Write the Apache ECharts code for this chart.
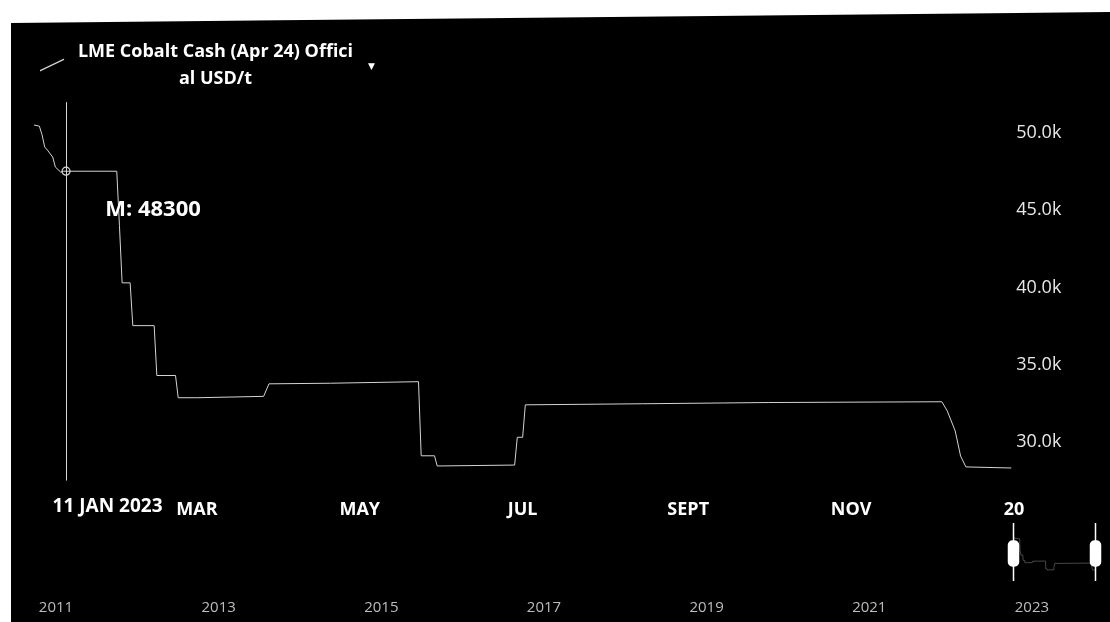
<!DOCTYPE html>
<html>
<head>
<meta charset="utf-8">
<script src="https://cdn.jsdelivr.net/npm/echarts@6/dist/echarts.min.js"></script>
<style>
  html, body { margin: 0; padding: 0; background: #ffffff; }
  #panel { position: absolute; left: 0; top: 0; width: 1110px; height: 622px; background: #000;
           clip-path: polygon(11px 23px, 1110px 12px, 1110px 622px, 11px 622px); }
  #chart { position: absolute; left: 0; top: 0; width: 1110px; height: 622px; }
</style>
</head>
<body>
<div id="panel"></div>
<div id="chart"></div>
<script>
// ---- data ----
const seriesName = 'LME Cobalt Cash (Apr 24) Official USD/t';
const titleLines = ['LME Cobalt Cash (Apr 24) Offici', 'al USD/t'];
const dates = [
  '2022-12-30','2023-01-01','2023-01-02','2023-01-03','2023-01-04','2023-01-06','2023-01-07','2023-01-09',
  '2023-01-10','2023-01-30','2023-01-31','2023-02-01','2023-02-04','2023-02-05','2023-02-13','2023-02-14',
  '2023-02-21','2023-02-22','2023-03-01','2023-03-26','2023-03-28','2023-04-20','2023-05-23','2023-05-24',
  '2023-05-29','2023-05-30','2023-06-28','2023-06-29','2023-07-01','2023-07-02','2023-08-15','2023-10-01',
  '2023-12-05','2023-12-07','2023-12-10','2023-12-12','2023-12-14','2023-12-31'
];
const prices = [
  50520, 50450, 49900, 49100, 48900, 48450, 47800, 47470,
  47530, 47530, 44000, 40300, 40300, 37530, 37530, 34300,
  34300, 32860, 32860, 32950, 33760, 33800, 33900, 29100,
  29100, 28440, 28500, 30300, 30300, 32400, 32470, 32550,
  32600, 32010, 30710, 29090, 28380, 28310
];
const crosshairDate = '2023-01-11';
const crosshairLabel = '11 JAN 2023';
const crosshairValue = 47530;
const markerText = 'M: 48300';
const monthTickLabels = { 0: '', 2: 'MAR', 4: 'MAY', 6: 'JUL', 8: 'SEPT', 10: 'NOV' };
const nextYearLabel = '20';
const navigatorStartYear = 2011;
const navigatorYearSpan = 12.5;

const chart = echarts.init(document.getElementById('chart'), null, { renderer: 'canvas' });
const seriesData = dates.map((d, i) => [d, prices[i]]);
const FONT = 'Open Sans';

const option = {
  backgroundColor: 'transparent',
  animation: false,
  textStyle: { fontFamily: FONT },
  title: [{
    text: '▼', left: 363, top: 57,
    textStyle: { fontSize: 9, color: '#ffffff', fontFamily: 'DejaVu Sans', fontWeight: 'normal' }
  }],
  legend: {
    left: 35, top: 37.5,
    itemWidth: 27, itemHeight: 13,
    icon: 'path://M0,13L27,0L27,1.6L0,14.6Z',
    selectedMode: false,
    data: [seriesName],
    formatter: () => '{t|' + titleLines[0] + '}\n{t|' + titleLines[1] + '}',
    textStyle: {
      rich: { t: { width: 290, align: 'center', fontSize: 18, fontWeight: 'bold', color: '#ffffff', lineHeight: 27, fontFamily: FONT } }
    }
  },
  grid: [
    { left: 34, right: 90.7, top: 102.2, bottom: 141.5 },
    { left: 56, right: 37.4, top: 520, height: 70 }
  ],
  xAxis: [
    {
      type: 'time', gridIndex: 0,
      min: '2022-12-30', max: '2024-01-03',
      splitNumber: 6,
      axisLine: { show: false }, axisTick: { show: false }, splitLine: { show: false },
      axisLabel: {
        color: '#ffffff', fontSize: 18, fontWeight: 'bold', margin: 20, hideOverlap: false,
        formatter: function (v) {
          const d = new Date(v);
          if (d.getDate() !== 1) return '';
          if (d.getFullYear() === 2024 && d.getMonth() === 0) return nextYearLabel;
          const lab = monthTickLabels[d.getMonth()];
          return lab === undefined ? '' : lab;
        }
      }
    },
    {
      type: 'value', gridIndex: 1, min: 0, max: navigatorYearSpan, interval: 2,
      axisLine: { show: false }, axisTick: { show: false }, splitLine: { show: false },
      axisLabel: {
        color: '#bdbdbd', fontSize: 15, margin: 10,
        formatter: v => (Number.isInteger(v) && v % 2 === 0) ? String(navigatorStartYear + v) : ''
      }
    }
  ],
  yAxis: [
    {
      type: 'value', gridIndex: 0, position: 'right',
      min: 27500, max: 52000,
      axisLine: { show: false }, axisTick: { show: false }, splitLine: { show: false },
      axisLabel: {
        color: '#e8e8e8', fontSize: 18, margin: -3,
        formatter: v => (v % 5000 === 0) ? (v / 1000).toFixed(1) + 'k' : ''
      }
    },
    { type: 'value', gridIndex: 1, min: 0, max: 1, show: false }
  ],
  dataZoom: [{
    type: 'slider', xAxisIndex: 0, start: 0, end: 100,
    left: 1010, width: 84, top: 523, height: 58,
    zoomLock: true, showDetail: false, brushSelect: false,
    handleSize: '100%',
    handleIcon: 'path://M5,0V15M5,40V58M0,19A4,4,0,0,1,4,15H6A4,4,0,0,1,10,19V36A4,4,0,0,1,6,40H4A4,4,0,0,1,0,36Z',
    handleStyle: { color: '#ffffff', borderColor: '#ffffff', borderWidth: 1.5 },
    emphasis: { handleStyle: { color: '#ffffff', borderColor: '#ffffff', borderWidth: 1.5 } },
    moveHandleSize: 0,
    moveHandleStyle: { opacity: 0 },
    fillerColor: 'rgba(0,0,0,0)', borderColor: 'rgba(0,0,0,0)', backgroundColor: 'rgba(0,0,0,0)',
    showDataShadow: true,
    dataBackground: { lineStyle: { color: '#777777', width: 1, opacity: 0.6 }, areaStyle: { opacity: 0 } },
    selectedDataBackground: { lineStyle: { color: '#777777', width: 1, opacity: 0.6 }, areaStyle: { opacity: 0 } }
  }],
  series: [{
    name: seriesName, type: 'line', xAxisIndex: 0, yAxisIndex: 0,
    data: seriesData, showSymbol: false, symbol: 'none',
    itemStyle: { color: '#d4d4d4' },
    lineStyle: { color: '#d4d4d4', width: 1 },
    markLine: {
      silent: true, symbol: ['none', 'none'],
      lineStyle: { color: '#d8d8d8', width: 1, type: 'solid' },
      label: {
        show: true, position: 'start', distance: 17,
        formatter: crosshairLabel, color: '#ffffff', fontSize: 19, fontWeight: 'bold',
        fontFamily: FONT, padding: [0, 0, 0, 83]
      },
      data: [{ xAxis: crosshairDate }]
    },
    markPoint: {
      silent: true,
      symbol: 'circle', symbolSize: 8,
      itemStyle: { color: 'rgba(0,0,0,0)', borderColor: '#d8d8d8', borderWidth: 1.2 },
      label: {
        show: true, formatter: markerText, offset: [87, 39],
        color: '#ffffff', fontSize: 22, fontWeight: 'bold', fontFamily: FONT
      },
      data: [{ coord: [crosshairDate, crosshairValue] }]
    }
  }]
};
chart.setOption(option);
</script>
</body>
</html>
